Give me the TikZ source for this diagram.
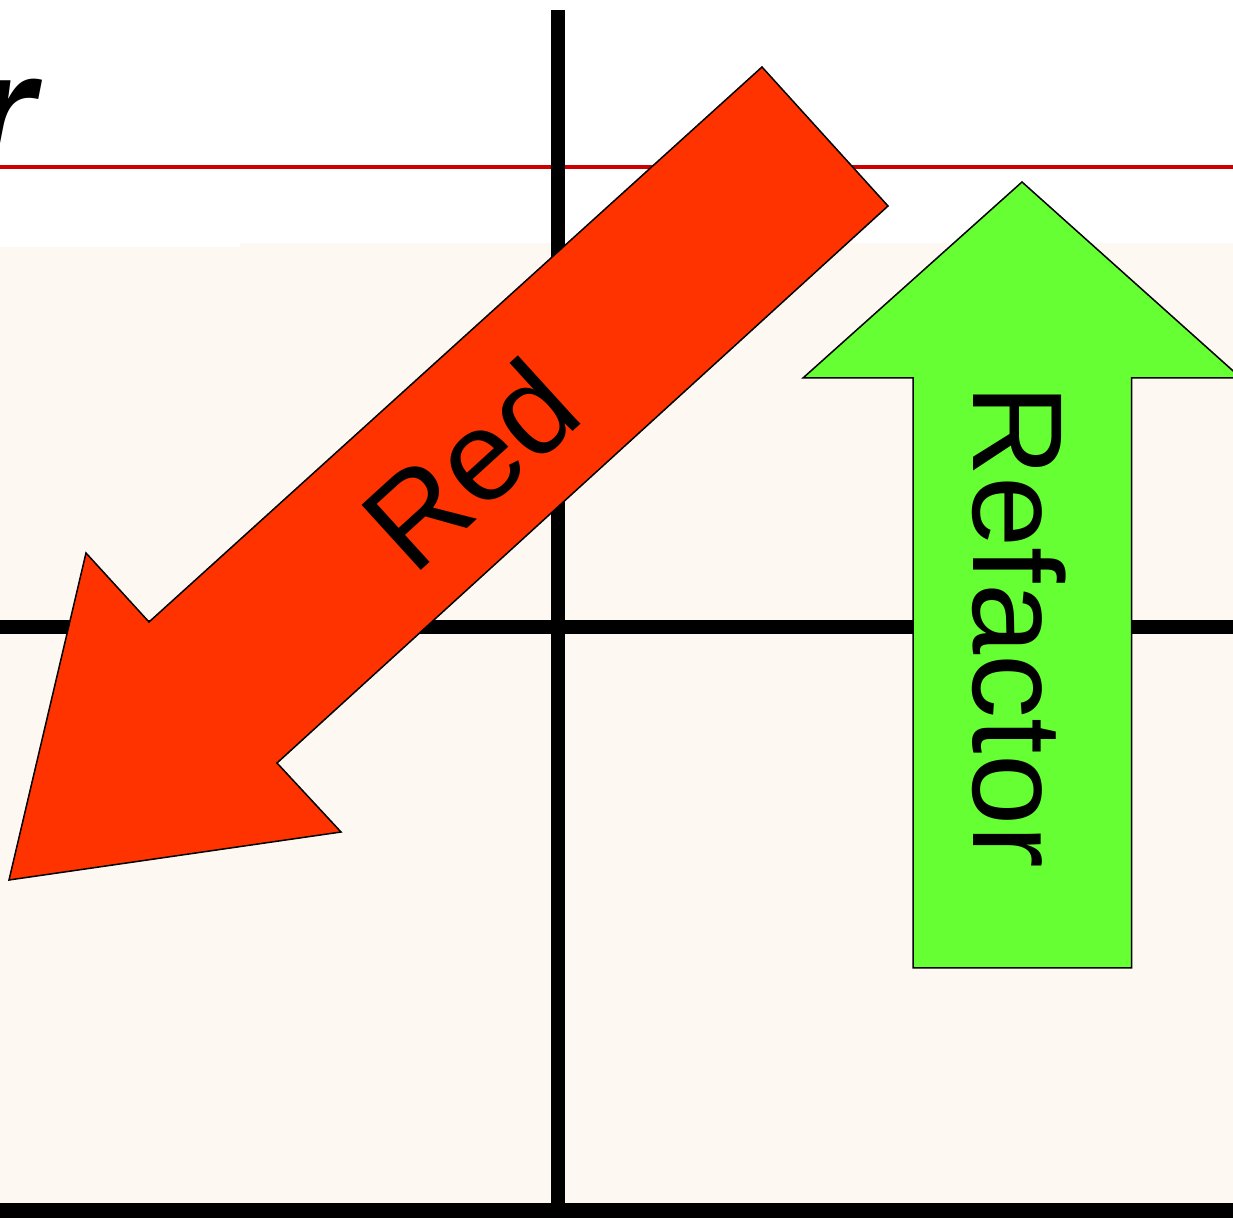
\documentclass[tikz,border=0pt]{standalone}
\usepackage{fontspec}
\setmainfont{Liberation Sans}
\definecolor{cream}{HTML}{FDF8F2}
\definecolor{redline}{HTML}{CC0000}
\definecolor{redarrow}{HTML}{FF3300}
\definecolor{greenarrow}{HTML}{66FF33}
\tikzset{
  gridline/.style={line width=7pt, black},
  arrowshape/.style={draw=black, line width=0.75pt, line join=miter},
  arrowtext/.style={inner sep=0pt, font=\fontsize{64}{64}\selectfont, text=black},
}
\begin{document}
\begin{tikzpicture}[x=0.5pt, y=-0.5pt]
\useasboundingbox (0,0) rectangle (1233,1218);
% background
\fill[white] (0,0) rectangle (1233,1218);
\fill[cream] (0,247) rectangle (241,1218);
\fill[cream] (240,243) rectangle (1233,1218);
% title fragment
\node[anchor=base west, inner sep=0pt, font=\fontsize{84}{84}\selectfont\bfseries\itshape] (title) at (-31,170) {r};
% red rule
\draw[redline, line width=1.6pt] (0,167) -- (1233,167);
% grid lines
\coordinate (vtop) at (558,10);
\coordinate (vbot) at (558,1218);
\coordinate (hl) at (0,627.5);
\coordinate (hr) at (1233,627.5);
\coordinate (bl) at (0,1211);
\coordinate (br) at (1233,1211);
\draw[gridline] (vtop) -- (vbot);
\draw[gridline] (hl) -- (hr);
\draw[gridline, line width=7.5pt] (bl) -- (br);
% red arrow
\filldraw[arrowshape, fill=redarrow] (9,880) -- (86,553) -- (149,622) -- (762,67) -- (888,206) -- (277,763) -- (341,832) -- cycle;
\node[arrowtext, anchor=base, rotate=42.3] (red) at (500,498) {Red};
% green arrow
\filldraw[arrowshape, fill=greenarrow] (1022,182) -- (1241,378) -- (1131.5,378) -- (1131.5,968) -- (913,968) -- (913,378) -- (803,378) -- cycle;
\node[arrowtext, anchor=base, rotate=-90] (refactor) at (973,626) {Refactor};
\end{tikzpicture}
\end{document}
